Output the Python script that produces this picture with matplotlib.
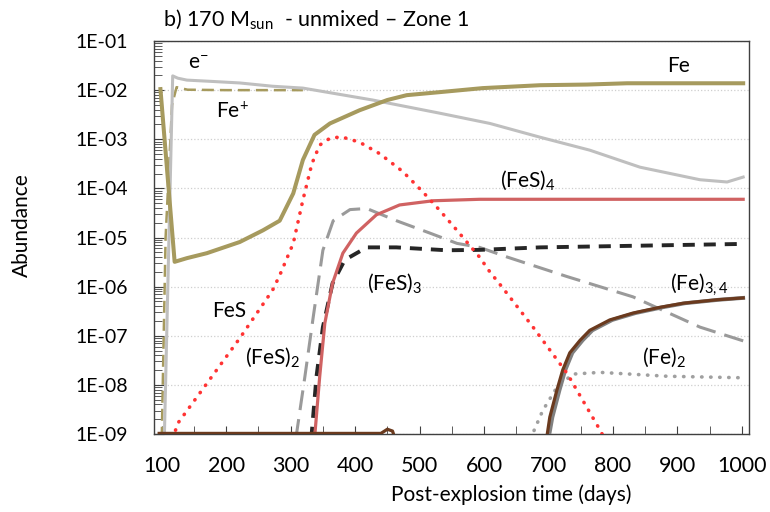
import matplotlib
matplotlib.use('Agg')
import matplotlib.pyplot as plt
from matplotlib.ticker import FuncFormatter, LogLocator, MultipleLocator
import numpy as np

plt.rcParams['font.family'] = ['Lato', 'DejaVu Sans']
plt.rcParams['mathtext.fontset'] = 'custom'
plt.rcParams['mathtext.rm'] = 'Lato'
plt.rcParams['mathtext.it'] = 'Lato'

# days / abundances
fe_t = [98, 120, 139, 170, 221, 257, 283, 304, 319, 337, 361, 407, 450, 480, 531, 598, 687, 760, 822, 900, 1002]
fe_y = [1.05e-2, 3.2e-6, 3.8e-6, 4.8e-6, 8.1e-6, 1.4e-5, 2.2e-5, 7.9e-5, 3.8e-4, 1.23e-3, 2.1e-3, 3.9e-3,
        6.3e-3, 7.9e-3, 9.1e-3, 1.1e-2, 1.26e-2, 1.3e-2, 1.38e-2, 1.38e-2, 1.38e-2]

el_t = [104, 117, 125, 139, 180, 221, 272, 319, 427, 531, 609, 687, 764, 842, 935, 977, 1002]
el_y = [8e-10, 1.95e-2, 1.75e-2, 1.6e-2, 1.5e-2, 1.4e-2, 1.2e-2, 1.1e-2, 6.3e-3, 3.4e-3, 2.1e-3, 1.1e-3,
        6.0e-4, 2.7e-4, 1.5e-4, 1.35e-4, 1.7e-4]

fep_t = [100, 106, 116, 123, 140, 200, 260, 319]
fep_y = [8e-10, 1e-5, 5e-3, 1.15e-2, 1.02e-2, 1.0e-2, 1.0e-2, 1.0e-2]

fes_t = [117, 125, 170, 221, 272, 283, 304, 319, 333, 345, 361, 379, 407, 438, 474, 505, 531, 558, 593,
         609, 628, 676, 729, 780, 787]
fes_y = [8e-10, 1.66e-9, 1.07e-8, 8.9e-8, 8.5e-7, 1.7e-6, 7.6e-6, 5.8e-5, 3.2e-4, 7.6e-4, 1.05e-3, 1.12e-3,
         8.7e-4, 5.1e-4, 2.2e-4, 8.5e-5, 3.6e-5, 1.4e-5, 4.0e-6, 2.0e-6, 9.8e-7, 1.5e-7, 1.7e-8, 1.2e-9, 8e-10]

fes2_t = [308, 322, 335, 350, 366, 392, 418, 464, 516, 558, 593, 636, 729, 831, 935, 1003]
fes2_y = [8e-10, 1.45e-8, 2.4e-7, 5.5e-6, 2.2e-5, 3.7e-5, 3.9e-5, 2.2e-5, 1.23e-5, 7.6e-6, 6.3e-6, 4.0e-6,
          1.6e-6, 6.2e-7, 1.5e-7, 7.8e-8]

fes3_t = [332, 340, 350, 365, 384, 418, 464, 542, 593, 687, 1000]
fes3_y = [8e-10, 1.45e-8, 1.5e-7, 1.17e-6, 3.5e-6, 6.3e-6, 6.3e-6, 5.5e-6, 5.6e-6, 6.3e-6, 7.4e-6]

fes4_t = [337, 345, 353, 365, 381, 402, 433, 469, 521, 593, 1002]
fes4_y = [8e-10, 1.45e-8, 1.8e-7, 1.17e-6, 4.8e-6, 1.23e-5, 2.9e-5, 4.6e-5, 5.6e-5, 6.0e-5, 6.0e-5]

fe2_t = [672, 691, 713, 738, 780, 884, 997]
fe2_y = [8e-10, 3.0e-9, 8.9e-9, 1.66e-8, 1.8e-8, 1.5e-8, 1.4e-8]

fe3_t = [700, 706, 717, 726, 737, 753, 768, 799, 835, 877, 912, 964, 1002]
fe3_y = [8e-10, 2.2e-9, 7.8e-9, 2.0e-8, 4.5e-8, 8.1e-8, 1.29e-7, 2.1e-7, 2.9e-7, 3.8e-7, 4.6e-7, 5.4e-7, 5.9e-7]

fe4_t = [96, 440, 450, 458, 462, 697, 702, 713, 722, 733, 749, 764, 795, 831, 873, 909, 961, 1002]
fe4_y = [1.03e-9, 1.03e-9, 1.25e-9, 1.15e-9, 8e-10, 8e-10, 2.2e-9, 7.8e-9, 2.0e-8, 4.5e-8, 8.1e-8, 1.29e-7,
         2.1e-7, 2.9e-7, 3.8e-7, 4.6e-7, 5.4e-7, 5.9e-7]

fig = plt.figure(figsize=(7.7, 5.12), dpi=100)
ax = fig.add_axes([0.2, 0.1523, 0.7727, 0.7676])

olive = '#A69A5E'
ax.plot(fep_t, fep_y, color=olive, lw=1.8, ls=(0, (4.8, 2.4)), zorder=3)
ax.plot(el_t, el_y, color='#BFBFBF', lw=2.2, zorder=4)
ax.plot(fe_t, fe_y, color=olive, lw=2.9, zorder=5)
ax.plot(fes2_t, fes2_y, color='#9A9A9A', lw=2.2, ls=(0, (6.5, 3)), zorder=3)
ax.plot(fes3_t, fes3_y, color='#262626', lw=2.8, ls=(0, (3.1, 2.3)), zorder=4)
ax.plot(fes4_t, fes4_y, color='#D06262', lw=2.3, zorder=5)
ax.plot(fes_t, fes_y, color='#FF3333', lw=2.6, ls=(0, (0.1, 2.4)), dash_capstyle='round', zorder=6)
ax.plot(fe2_t, fe2_y, color='#A0A0A0', lw=2.6, ls=(0, (0.1, 2.4)), dash_capstyle='round', zorder=3)
ax.plot(fe3_t, fe3_y, color='#808080', lw=2.8, zorder=4)
ax.plot(fe4_t, fe4_y, color='#6B3A1E', lw=2.3, zorder=5)

ax.set_yscale('log')
ax.set_ylim(1e-9, 1e-1)
ax.set_xlim(88, 1011)
ax.yaxis.set_major_locator(LogLocator(base=10, numticks=20))
ax.yaxis.set_minor_locator(LogLocator(base=10, subs=np.arange(2, 10), numticks=20))
ax.yaxis.set_major_formatter(FuncFormatter(lambda v, p: '1E-%02d' % round(-np.log10(v))))
ax.xaxis.set_major_locator(MultipleLocator(100))
ax.xaxis.set_minor_locator(MultipleLocator(50))
ax.tick_params(axis='both', which='both', direction='in', colors='#404040',
               labelcolor='black', top=False, right=False)
ax.tick_params(axis='y', which='major', length=7, pad=19, labelsize=14)
ax.tick_params(axis='y', which='minor', length=6)
ax.tick_params(axis='x', which='both', length=6, pad=16, labelsize=15.5)
ax.grid(axis='y', which='major', color='#CFCFCF', ls=':', lw=0.9)
for s in ax.spines.values():
    s.set_color('#404040')
    s.set_linewidth(1.0)

fs = 15
ax.text(156, 3.4e-2, r'e$^{-}$', fontsize=fs, ha='center', va='center')
ax.text(209, 3.6e-3, r'Fe$^{+}$', fontsize=fs, ha='center', va='center')
ax.text(901, 3.1e-2, 'Fe', fontsize=fs, ha='center', va='center')
ax.text(625, 1.5e-4, r'(FeS)$_4$', fontsize=fs, ha='left', va='center')
ax.text(418, 1.2e-6, r'(FeS)$_3$', fontsize=fs, ha='left', va='center')
ax.text(205, 3.2e-7, 'FeS', fontsize=fs, ha='center', va='center')
ax.text(229, 3.6e-8, r'(FeS)$_2$', fontsize=fs, ha='left', va='center')
ax.text(888, 1.1e-6, r'(Fe)$_{3,4}$', fontsize=fs, ha='left', va='center')
ax.text(845, 3.6e-8, r'(Fe)$_2$', fontsize=fs, ha='left', va='center')

fig.text(163 / 770, 1 - 19 / 512, r'b) 170 M$_{\mathrm{sun}}$  - unmixed – Zone 1', fontsize=15.5,
         ha='left', va='center')
fig.text(22 / 770, 1 - 225 / 512, 'Abundance', fontsize=15, rotation=90, ha='center', va='center')
fig.text(511 / 770, 1 - 495 / 512, 'Post-explosion time (days)', fontsize=15, ha='center', va='center')

fig.savefig('out.png', dpi=100)
